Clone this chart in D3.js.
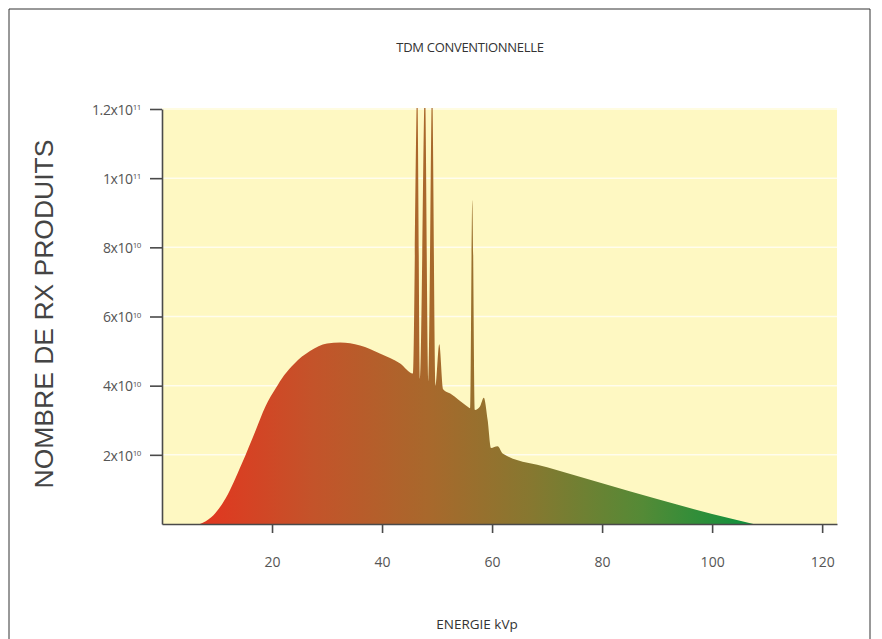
<!DOCTYPE html>
<html>
<head>
<meta charset="utf-8">
<script src="https://cdn.jsdelivr.net/npm/d3@7"></script>
<style>
  html, body { margin: 0; padding: 0; background: #fff; }
  svg { display: block; }
</style>
</head>
<body>
<svg id="chart" width="882" height="639"></svg>
<script>
// ---- data ----
const energyKeV = [6.9, 9.0, 11.6, 14.5, 17.0, 18.8, 20.7, 22.2, 24.0, 26.9, 30.0, 32.4, 36.0, 39.6, 43.3, 45.6,
  46.4, 46.9, 47.8, 48.4, 49.1, 49.7, 50.4, 51.1, 52.4, 55.5, 56.0, 56.4, 56.9, 57.8, 58.5,
  59.2, 59.8, 61.0, 62.0, 70, 80, 90, 100, 107.5];
const photonCounts = [0, 2.0e9, 7.5e9, 17.4e9, 27e9, 34e9, 39.3e9, 43e9, 46.3e9, 50e9, 52.2e9, 52.5e9, 51.6e9, 49.3e9, 46.4e9, 43.5e9,
  126e9, 42e9, 126e9, 41e9, 126e9, 40e9, 52e9, 39e9, 37.7e9, 34e9, 33.5e9, 93.6e9, 33e9, 34e9, 36.5e9,
  30e9, 22e9, 22.5e9, 20.3e9, 16.4e9, 11.8e9, 7.2e9, 2.9e9, 0];
const yTickValues = [2e10, 4e10, 6e10, 8e10, 1e11, 1.2e11];
const yTickMantissa = ["2x10", "4x10", "6x10", "8x10", "1x10", "1.2x10"];
const yTickExponent = ["10", "10", "10", "10", "11", "11"];
const xTickValues = [20, 40, 60, 80, 100, 120];

const title = "TDM CONVENTIONNELLE";
const xTitle = "ENERGIE kVp";
const yTitle = "NOMBRE DE RX PRODUITS";

// ---- layout ----
const svg = d3.select("#chart");
const pL = 162, pR = 837, pT = 108, pB = 524;
const x = d3.scaleLinear().domain([0, 122.7]).range([pL, pR]);
const y = d3.scaleLinear().domain([0, 1.2e11]).range([pB, pT + 1]);

const defs = svg.append("defs");
defs.append("clipPath").attr("id", "plotClip")
  .append("rect").attr("x", pL).attr("y", pT).attr("width", pR - pL).attr("height", pB - pT);

const grad = defs.append("linearGradient").attr("id", "specGrad")
  .attr("gradientUnits", "userSpaceOnUse")
  .attr("x1", x(7)).attr("x2", x(107.5)).attr("y1", 0).attr("y2", 0);
[[0, "#e2361f"], [0.2, "#c4532a"], [0.42, "#a7692c"], [0.6, "#867830"], [0.8, "#548a36"], [1, "#0c923d"]]
  .forEach(([o, c]) => grad.append("stop").attr("offset", o).attr("stop-color", c));

// outer frame
svg.append("path").attr("d", `M9,639 V9 H870 V639`).attr("fill", "none")
  .attr("stroke", "#333").attr("stroke-width", 1);

// plot background
svg.append("rect").attr("x", pL).attr("y", pT).attr("width", pR - pL).attr("height", pB - pT)
  .attr("fill", "#fef8c2");

// grid
svg.append("g").selectAll("line").data(yTickValues).join("line")
  .attr("x1", pL).attr("x2", pR).attr("y1", d => y(d)).attr("y2", d => y(d))
  .attr("stroke", "#ffffff").attr("stroke-opacity", 0.7).attr("stroke-width", 1.5);

// spectrum area
const pts = energyKeV.map((e, i) => [e, photonCounts[i]]);
const area = d3.area().x(d => x(d[0])).y0(y(0)).y1(d => y(d[1])).curve(d3.curveMonotoneX);
svg.append("path").datum(pts).attr("d", area).attr("fill", "url(#specGrad)")
  .attr("clip-path", "url(#plotClip)");

// axes
const axisColor = "#4a4a4a";
const yAxis = svg.append("g").attr("transform", `translate(${pL},0)`)
  .call(d3.axisLeft(y).tickValues(yTickValues).tickSize(12).tickSizeOuter(0).tickPadding(6).tickFormat(() => ""));
const xAxis = svg.append("g").attr("transform", `translate(0,${pB})`)
  .call(d3.axisBottom(x).tickValues(xTickValues).tickSize(9).tickSizeOuter(0).tickFormat(() => ""));
[yAxis, xAxis].forEach(g => {
  g.select(".domain").attr("stroke", axisColor).attr("stroke-width", 1.6);
  g.selectAll(".tick line").attr("stroke", axisColor).attr("stroke-width", 1.6);
});

const fontFam = "'Open Sans', 'Noto Sans', sans-serif";
// y tick labels with superscripts
yAxis.selectAll(".tick").each(function(d, i) {
  const t = d3.select(this).select("text")
    .attr("x", -21).attr("dy", "0.38em")
    .attr("font-family", fontFam).attr("font-size", 14).attr("fill", "#555")
    .attr("text-anchor", "end").attr("letter-spacing", "-0.4");
  t.text(null);
  t.append("tspan").text(yTickMantissa[i]);
  t.append("tspan").text(yTickExponent[i]).attr("font-size", 8).attr("dy", "-0.6em");
});
xAxis.selectAll(".tick text").text((d) => d)
  .attr("y", 33).attr("font-family", fontFam).attr("font-size", 14).attr("fill", "#555");

// titles
svg.append("text").attr("x", 470).attr("y", 52).attr("text-anchor", "middle")
  .attr("font-family", fontFam).attr("font-size", 13).attr("fill", "#333").attr("letter-spacing", "-0.3")
  .text(title);
svg.append("text").attr("x", 477).attr("y", 629).attr("text-anchor", "middle")
  .attr("font-family", fontFam).attr("font-size", 13.5).attr("fill", "#333")
  .text(xTitle);
svg.append("text").attr("transform", "translate(53,314) rotate(-90)").attr("text-anchor", "middle")
  .attr("font-family", "'Liberation Sans', Arial, sans-serif").attr("font-size", 26.5).attr("fill", "#444")
  .text(yTitle);
</script>
</body>
</html>
